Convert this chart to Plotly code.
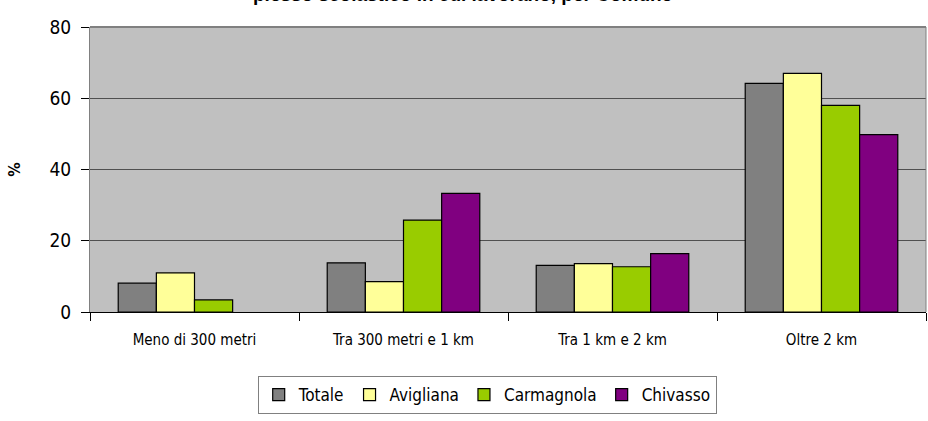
import plotly.graph_objects as go

categories = ["Meno di 300 metri", "Tra 300 metri e 1 km", "Tra 1 km e 2 km", "Oltre 2 km"]
totale = [8.1, 13.8, 13.1, 64.2]
avigliana = [11.0, 8.5, 13.6, 67.0]
carmagnola = [3.4, 25.8, 12.7, 58.0]
chivasso = [None, 33.3, 16.4, 49.8]
y_ticks = [0, 20, 40, 60, 80]

series = [
    ("Totale", totale, "#808080"),
    ("Avigliana", avigliana, "#FFFF99"),
    ("Carmagnola", carmagnola, "#99CC00"),
    ("Chivasso", chivasso, "#800080"),
]

FONT = "DejaVu Sans Condensed, Liberation Sans Narrow, sans-serif"

fig = go.Figure()
for name, vals, col in series:
    fig.add_trace(go.Bar(
        x=categories, y=vals, name=name,
        marker=dict(color=col, line=dict(color="black", width=1.2)),
    ))

fig.update_layout(
    width=928, height=421,
    margin=dict(l=90, r=2, t=27, b=109, autoexpand=False),
    paper_bgcolor="white",
    plot_bgcolor="#C0C0C0",
    barmode="group",
    bargap=0.27,
    bargroupgap=0,
    showlegend=True,
    legend=dict(
        orientation="h",
        xref="container", yref="container",
        x=0.525, xanchor="center",
        y=1 - 376 / 421, yanchor="top",
        bgcolor="white",
        bordercolor="#808080", borderwidth=1,
        font=dict(family=FONT, size=17, color="black"),
        traceorder="normal",
    ),
    font=dict(family=FONT, color="black"),
)

fig.update_xaxes(
    type="category",
    automargin=False,
    showgrid=False,
    showline=True, linecolor="black", linewidth=1,
    ticks="outside", ticklen=8, tickcolor="black",
    tickson="boundaries",
    ticklabelstandoff=14,
    tickfont=dict(family=FONT, size=15, color="black"),
)
fig.update_yaxes(
    range=[0, 80],
    automargin=False,
    tickvals=y_ticks,
    showgrid=True, gridcolor="#505050", gridwidth=1,
    showline=True, linecolor="#808080", linewidth=1,
    ticks="outside", ticklen=8, tickcolor="black",
    ticklabelstandoff=6,
    tickfont=dict(family=FONT, size=19, color="black"),
    zeroline=False,
    title=dict(text="<b>%</b>", font=dict(family=FONT, size=16, color="black"), standoff=24),
)

# plot-area border
fig.add_shape(type="line", xref="paper", yref="paper", x0=0, x1=1, y0=1, y1=1,
              line=dict(color="#808080", width=2))
fig.add_shape(type="line", xref="paper", yref="paper", x0=1, x1=1, y0=0, y1=1,
              line=dict(color="#808080", width=1))

fig.add_annotation(
    text="<b>plesso scolastico in cui lavorano, per Comune</b>",
    xref="paper", yref="paper", x=0.445, y=1 + (27 - 7) / 285,
    xanchor="center", yanchor="bottom",
    showarrow=False,
    font=dict(family="Liberation Sans, Arial, sans-serif", size=19, color="black"),
)

fig.write_html(
    "out.html",
    config={"displayModeBar": False},
    post_script="document.body.style.margin='0';document.body.style.overflow='hidden';",
)
